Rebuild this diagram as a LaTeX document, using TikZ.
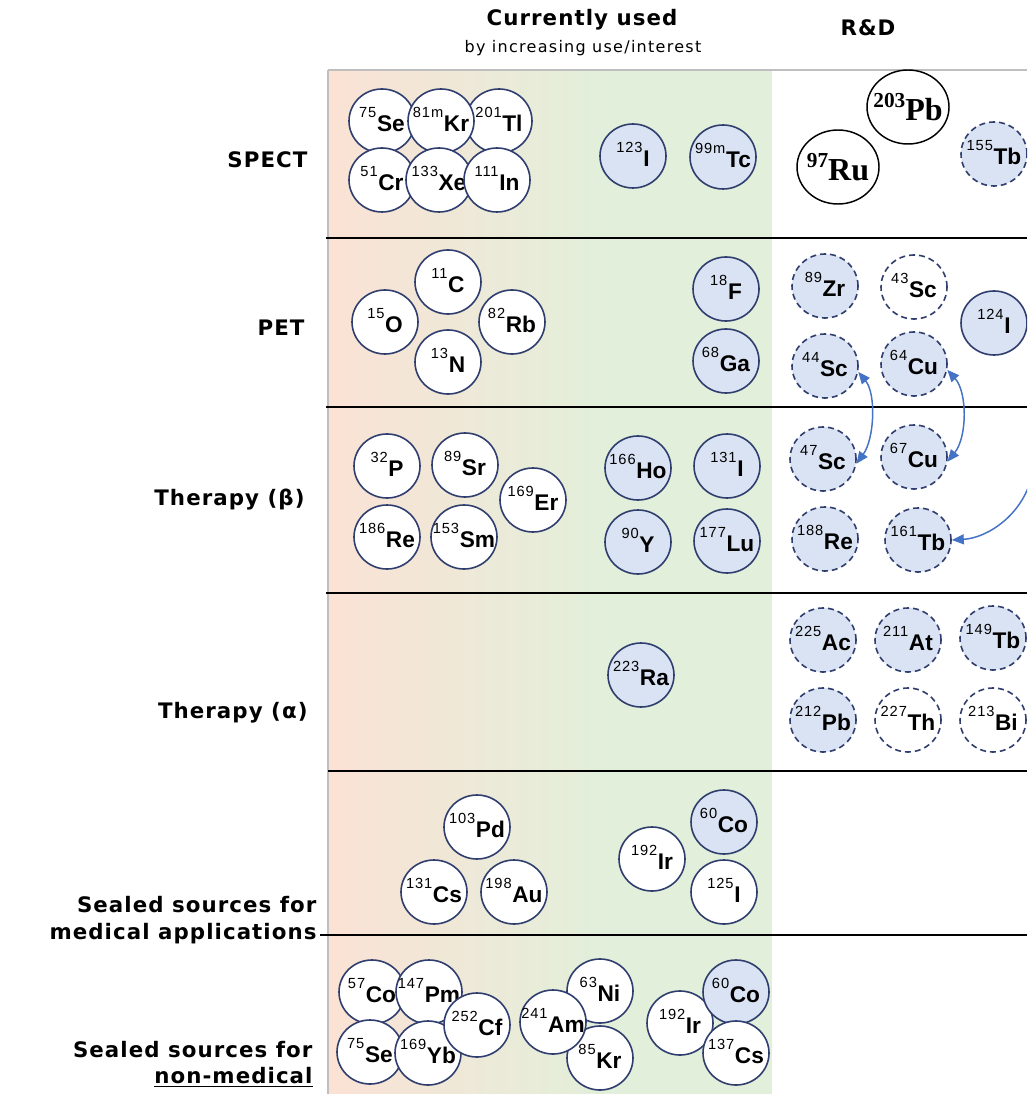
\documentclass[tikz,border=0pt]{standalone}
\usepackage{fontspec}
\setmainfont{Liberation Sans}
\newfontfamily\verdana{DejaVu Sans}[LetterSpace=5]
\newfontfamily\verdanasp{DejaVu Sans}[LetterSpace=8]
\newfontfamily\isofont{Liberation Sans}
\newfontfamily\supfont{Liberation Sans}[LetterSpace=6]
\newfontfamily\timesbd{Liberation Serif}
\usetikzlibrary{shapes.geometric,arrows.meta}

\definecolor{isoedge}{RGB}{47,62,110}
\definecolor{isofill}{RGB}{218,227,243}
\definecolor{leftbg}{RGB}{251,226,213}
\definecolor{rightbg}{RGB}{226,239,218}
\definecolor{linkblue}{RGB}{68,114,196}
\definecolor{framegray}{RGB}{191,191,191}

\newcommand{\iso}[2]{\makebox[0pt]{\raisebox{2pt}{\raisebox{0.6em}{\supfont\fontsize{11}{11}\selectfont #1}\kern0.5pt{\isofont\bfseries #2}}}}
\newcommand{\isotm}[2]{\makebox[0pt]{\timesbd\bfseries\raisebox{0.42em}{\fontsize{16}{16}\selectfont #1}#2}}

\tikzset{
	isobase/.style={ellipse, minimum width=49.5pt, minimum height=48pt, inner sep=0pt, line width=1.2pt, font=\fontsize{17}{17}\selectfont},
	useiso/.style={isobase, draw=isoedge, fill=white},
	usebiso/.style={isobase, draw=isoedge, fill=isofill},
	rdiso/.style={isobase, draw=isoedge, fill=isofill, dash pattern=on 4.5pt off 3pt},
	rdwiso/.style={isobase, draw=isoedge, fill=white, dash pattern=on 4.5pt off 3pt},
	newiso/.style={ellipse, draw=black, fill=white, line width=1.1pt, inner sep=0pt, minimum width=61.5pt, minimum height=55.5pt, font=\fontsize{24}{24}\selectfont},
	rowlabel/.style={anchor=east, align=right, inner sep=0pt, font=\verdana\bfseries\fontsize{16}{20}\selectfont},
	sepline/.style={line width=2pt},
	linkarrow/.style={draw=linkblue, line width=1.1pt, {Triangle[length=9pt,width=7.5pt]}-{Triangle[length=9pt,width=7.5pt]}},
	onearrow/.style={draw=linkblue, line width=1.1pt, -{Triangle[length=9pt,width=7.5pt]}}
}
\tikzset{every picture/.style={line width=0.75pt}}

\begin{document}
\begin{tikzpicture}[x=0.75pt,y=0.75pt,yscale=-1,xscale=1]
	\clip (0,0) rectangle (1027,1094);
	\fill[white] (0,0) rectangle (1027,1094);

	%Shape: Rectangle (gradient background)
	\fill[left color=leftbg, right color=rightbg] (328,70) rectangle (600,1094);
	\fill[rightbg] (600,70) rectangle (772,1094);
	%Straight Lines (frame)
	\draw[framegray, line width=1pt] (328,70) -- (1027,70);
	\draw[framegray, line width=1.2pt] (328,70) -- (328,1094);
	%Straight Lines (row separators)
	\draw[sepline] (326,238) -- (1027,238);
	\draw[sepline] (326,407) -- (1027,407);
	\draw[sepline] (326,593) -- (1027,593);
	\draw[sepline] (328,771) -- (1027,771);
	\draw[sepline] (320,935) -- (1027,935);

	% Text Node
	\node (cur) at (582,20) {\verdana\bfseries\fontsize{16}{16}\selectfont Currently used};
	% Text Node
	\node (curs) at (583,48) {\verdanasp\fontsize{12}{12}\selectfont by increasing use/interest};
	% Text Node
	\node (rd) at (868,28) {\verdana\bfseries\fontsize{16}{16}\selectfont R\&D};

	% Text Node
	\node[rowlabel] (spect) at (308,160) {SPECT};
	% Text Node
	\node[rowlabel] (pet) at (305,328) {PET};
	% Text Node
	\node[rowlabel] (tbeta) at (305,500) {Therapy (β)};
	% Text Node
	\node[rowlabel] (talpha) at (308,713) {Therapy (α)};
	% Text Node
	\node[rowlabel] (sealmed) at (317,920) {Sealed sources for\\medical applications};
	% Text Node
	\node[rowlabel] (sealnon) at (313,1064) {Sealed sources for\\\underline{non-medical}};

	%Shape: Circle (SPECT)
	\node[useiso] (se75s) at (382,121) {\iso{75}{Se}};
	\node[useiso] (tl201) at (499,121) {\iso{201}{Tl}};
	\node[useiso] (kr81m) at (441,121) {\iso{81m}{Kr}};
	\node[useiso] (cr51) at (382,180) {\iso{51}{Cr}};
	\node[useiso] (xe133) at (439,180) {\iso{133}{Xe}};
	\node[useiso] (in111) at (497,180) {\iso{111}{In}};
	\node[usebiso] (i123) at (633,156) {\iso{123}{I}};
	\node[usebiso] (tc99m) at (723,157) {\iso{99m}{Tc}};
	\node[newiso] (pb203) at (908,107) {\isotm{203}{Pb}};
	\node[newiso] (ru97) at (838,167) {\isotm{97}{Ru}};
	\node[rdiso] (tb155) at (994,154) {\iso{155}{Tb}};

	%Shape: Circle (PET)
	\node[useiso] (o15) at (385,322) {\iso{15}{O}};
	\node[useiso] (c11) at (448,282) {\iso{11}{C}};
	\node[useiso] (rb82) at (512,322) {\iso{82}{Rb}};
	\node[useiso] (n13) at (448,362) {\iso{13}{N}};
	\node[usebiso] (f18) at (726,289) {\iso{18}{F}};
	\node[usebiso] (ga68) at (726,361) {\iso{68}{Ga}};
	\node[rdiso] (zr89) at (825,286) {\iso{89}{Zr}};
	\node[rdwiso] (sc43) at (914,287) {\iso{43}{Sc}};
	\node[usebiso] (i124) at (994,323) {\iso{124}{I}};
	\node[rdiso] (sc44) at (825,366) {\iso{44}{Sc}};
	\node[rdiso] (cu64) at (914,364) {\iso{64}{Cu}};

	%Shape: Circle (Therapy beta)
	\node[useiso] (p32) at (387,466) {\iso{32}{P}};
	\node[useiso] (sr89) at (465,465) {\iso{89}{Sr}};
	\node[useiso] (er169) at (533,500) {\iso{169}{Er}};
	\node[useiso] (re186) at (387,537) {\iso{186}{Re}};
	\node[useiso] (sm153) at (464,537) {\iso{153}{Sm}};
	\node[usebiso] (ho166) at (638,468) {\iso{166}{Ho}};
	\node[usebiso] (i131) at (727,466) {\iso{131}{I}};
	\node[usebiso] (y90) at (638,542) {\iso{90}{Y}};
	\node[usebiso] (lu177) at (727,541) {\iso{177}{Lu}};
	\node[rdiso] (sc47) at (823,459) {\iso{47}{Sc}};
	\node[rdiso] (cu67) at (914,457) {\iso{67}{Cu}};
	\node[rdiso] (re188) at (825,539) {\iso{188}{Re}};
	\node[rdiso] (tb161) at (918,540) {\iso{161}{Tb}};

	%Shape: Circle (Therapy alpha)
	\node[usebiso] (ra223) at (641,675) {\iso{223}{Ra}};
	\node[rdiso] (ac225) at (823,640) {\iso{225}{Ac}};
	\node[rdiso] (at211) at (908,640) {\iso{211}{At}};
	\node[rdiso] (tb149) at (993,638) {\iso{149}{Tb}};
	\node[rdiso] (pb212) at (823,720) {\iso{212}{Pb}};
	\node[rdwiso] (th227) at (908,720) {\iso{227}{Th}};
	\node[rdwiso] (bi213) at (993,720) {\iso{213}{Bi}};

	%Shape: Circle (sealed, medical)
	\node[useiso] (pd103) at (477,827) {\iso{103}{Pd}};
	\node[useiso] (cs131) at (434,892) {\iso{131}{Cs}};
	\node[useiso] (au198) at (514,892) {\iso{198}{Au}};
	\node[useiso] (ir192m) at (652,859) {\iso{192}{Ir}};
	\node[usebiso] (co60m) at (724,822) {\iso{60}{Co}};
	\node[useiso] (i125) at (724,892) {\iso{125}{I}};

	%Shape: Circle (sealed, non-medical)
	\node[useiso] (co57) at (372,992) {\iso{57}{Co}};
	\node[useiso] (pm147) at (429,992) {\iso{147}{Pm}};
	\node[useiso] (se75n) at (370,1052) {\iso{75}{Se}};
	\node[useiso] (yb169) at (428,1053) {\iso{169}{Yb}};
	\node[useiso] (cf252) at (477,1025) {\iso{252}{Cf}};
	\node[useiso] (ni63) at (600,991) {\iso{63}{Ni}};
	\node[useiso] (kr85) at (600,1058) {\iso{85}{Kr}};
	\node[useiso] (am241) at (553,1022) {\iso{241}{Am}};
	\node[useiso] (ir192n) at (680,1023) {\iso{192}{Ir}};
	\node[usebiso] (co60n) at (736,992) {\iso{60}{Co}};
	\node[useiso] (cs137) at (736,1053) {\iso{137}{Cs}};

	%Curved Lines (pairs)
	\draw[linkarrow] (sc44.-10) .. controls +(18,22) and +(18,-25) .. (sc47.-8);
	\draw[linkarrow] (cu64.-10) .. controls +(20,22) and +(20,-25) .. (cu67.-8);
	\coordinate (offright) at (1032,476);
	\draw[onearrow] (offright) .. controls +(-10,40) and +(35,-2) .. (tb161.east);

\end{tikzpicture}
\end{document}
